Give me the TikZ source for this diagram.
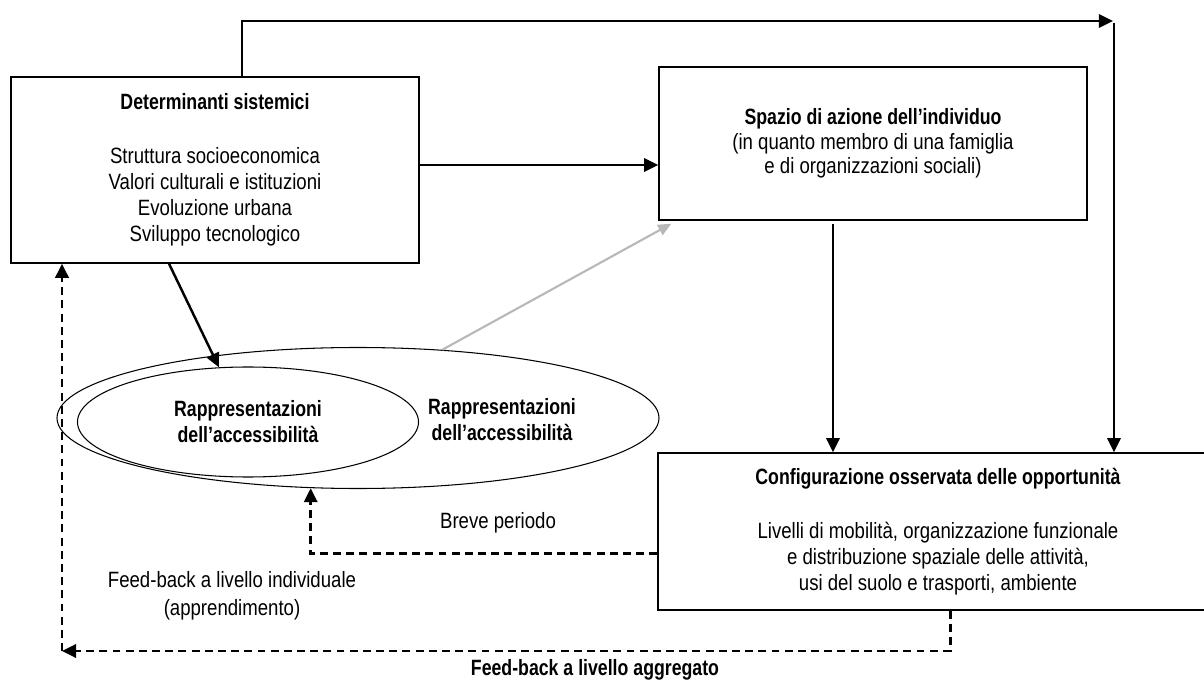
\documentclass[tikz,border=0pt]{standalone}
\usepackage{fontspec}
\setmainfont{Liberation Sans}[FakeStretch=0.84, BoldFeatures={FakeStretch=0.8}]
\usetikzlibrary{shapes.geometric, arrows.meta, positioning}
\tikzset{
    boxnode/.style = {draw, rectangle, line width=0.8pt, inner sep=0em, node distance=0em},
    ellipsenode/.style = {draw, ellipse, line width=0.6pt, inner sep=0em, node distance=0em},
    textnode/.style = {draw=none, fill=none, rectangle, inner sep=0em, node distance=0em},
    connect/.style = {black, line width=1.4pt, -{Triangle[length=8pt,width=7.5pt]}},
    dashconnect/.style = {connect, line width=1.7pt, dash pattern=on 4.5pt off 3pt},
    grayconnect/.style = {black!28, line width=1.2pt, -{Triangle[length=7.5pt,width=6.5pt]}},
    every text node part/.style={align=center},
    every node/.style={font=\fontsize{12.6pt}{14.8pt}\selectfont}
}

\begin{document}
\begin{tikzpicture}
    \clip (-4.3,3.4) rectangle (19.78,-10.32);

    \node [name=dets, boxnode, minimum width=8.16cm, minimum height=3.72cm]
        {\textbf{Determinanti sistemici}\\[16pt] Struttura socioeconomica\\ Valori culturali e istituzioni\\
         Evoluzione urbana\\ Sviluppo tecnologico};

    \node [name=spazio, boxnode, minimum width=8.56cm, minimum height=3.06cm,
        right of = dets, xshift=13.16cm, yshift=0.53cm, font=\fontsize{12.6pt}{13.8pt}\selectfont]
        {\textbf{Spazio di azione dell'individuo}\\ (in quanto membro di una famiglia\\ e di organizzazioni sociali)};

    \node [name=config, boxnode, minimum width=11.2cm, minimum height=3.14cm,
        right of = dets, xshift=14.46cm, yshift=-7.23cm]
        {\textbf{Configurazione osservata delle opportunità}\\[16pt] Livelli di mobilità, organizzazione funzionale\\
         e distribuzione spaziale delle attività,\\ usi del suolo e trasporti, ambiente};

    \node [name=outer, ellipsenode, minimum width=12.04cm, minimum height=2.82cm,
        right of = dets, xshift=2.86cm, yshift=-4.96cm] {};
    \node [name=inner, ellipsenode, minimum width=6.82cm, minimum height=2.2cm,
        right of = dets, xshift=0.66cm, yshift=-5.04cm]
        {\textbf{Rappresentazioni}\\ \textbf{dell'accessibilità}};
    \node [name=repr, textnode, right of = dets, xshift=5.74cm, yshift=-5.0cm]
        {\textbf{Rappresentazioni}\\ \textbf{dell'accessibilità}};

    \node [name=breve, textnode, right of = dets, xshift=5.66cm, yshift=-7.06cm] {Breve periodo};
    \node [name=fbind, textnode, below of = dets, xshift=0.34cm, yshift=-8.52cm]
        {Feed-back a livello individuale\\[1pt] (apprendimento)};
    \node [name=fbagg, textnode, below of = dets, xshift=7.6cm, yshift=-10.0cm]
        {\textbf{Feed-back a livello aggregato}};

    \coordinate (topcorner) at ([xshift=17.98cm, yshift=2.98cm]dets.center);
    \coordinate (fbcorner) at ([xshift=-3.06cm, yshift=-9.62cm]dets.center);

    \draw [connect] ([xshift=0.54cm]dets.north) |- ([xshift=-0.02cm]topcorner);
    \draw [connect] ([yshift=-0.04cm]topcorner) -- (topcorner |- config.north);
    \draw [connect] ([yshift=0.1cm]dets.east) -- ([yshift=0.1cm]dets.east -| spazio.west);
    \draw [connect] ([xshift=-0.92cm]dets.south) -- (inner.118);
    \draw [grayconnect] (outer.39) -- ([xshift=0.26cm, yshift=-0.06cm]spazio.south west);
    \draw [connect] ([xshift=-0.8cm, yshift=-0.06cm]spazio.south) -- ([xshift=-0.8cm]spazio.south |- config.north);

    \draw [dashconnect] ([yshift=-0.44cm]config.west) -| (outer.236);
    \draw [dashconnect] ([xshift=0.24cm]config.south) |- (fbcorner);
    \draw [dashconnect] (fbcorner) -- (fbcorner |- dets.south);
\end{tikzpicture}
\end{document}
